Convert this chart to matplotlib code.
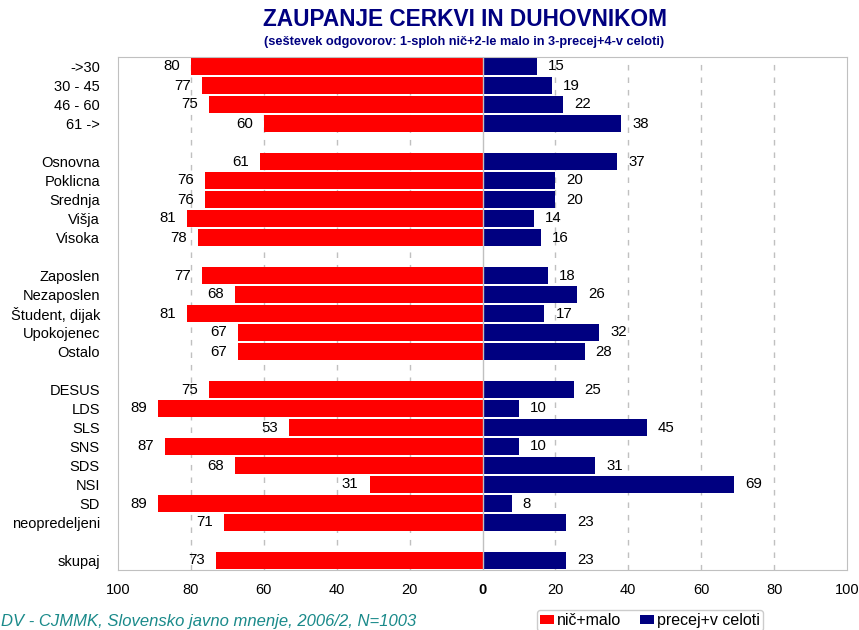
import matplotlib
matplotlib.use('Agg')
import matplotlib.pyplot as plt
from matplotlib.patches import Patch
import numpy as np

plt.rcParams['font.family'] = ['Liberation Sans', 'DejaVu Sans']

# %%
# Data (groups are separated by an empty row)
# -------------------------------------------

group_sizes = [4, 5, 5, 8, 1]
categories = [
    '->30', '30 - 45', '46 - 60', '61 ->',
    'Osnovna', 'Poklicna', 'Srednja', 'Višja', 'Visoka',
    'Zaposlen', 'Nezaposlen', 'Študent, dijak', 'Upokojenec', 'Ostalo',
    'DESUS', 'LDS', 'SLS', 'SNS', 'SDS', 'NSI', 'SD', 'neopredeljeni',
    'skupaj',
]
nic_malo = [80, 77, 75, 60,
            61, 76, 76, 81, 78,
            77, 68, 81, 67, 67,
            75, 89, 53, 87, 68, 31, 89, 71,
            73]
precej = [15, 19, 22, 38,
          37, 20, 20, 14, 16,
          18, 26, 17, 32, 28,
          25, 10, 45, 10, 31, 69, 8, 23,
          23]
xticks = [-100, -80, -60, -40, -20, 0, 20, 40, 60, 80, 100]

RED = '#FF0000'
NAVY = '#000080'
GRID = '#C0C0C0'

# row positions with one blank slot between groups
ypos = []
slot = 0
for n in group_sizes:
    ypos.extend(range(slot, slot + n))
    slot += n + 1
nslots = slot - 1
ypos = np.array(ypos)

W, H = 859, 630
fig = plt.figure(figsize=(W / 100, H / 100), dpi=100)
ax = fig.add_axes([118 / W, 1 - 570 / H, (847 - 118) / W, (570 - 57) / H])

ax.barh(ypos, -np.array(nic_malo), height=0.88, color=RED, zorder=2)
ax.barh(ypos, precej, height=0.88, color=NAVY, zorder=2)

for y, v in zip(ypos, nic_malo):
    ax.annotate(str(v), (-v, y), xytext=(-8, 0), textcoords='offset points',
                ha='right', va='center', fontsize=10.8, color='black')
for y, v in zip(ypos, precej):
    ax.annotate(str(v), (v, y), xytext=(8, 0), textcoords='offset points',
                ha='left', va='center', fontsize=10.8, color='black')

for x in xticks[1:-1]:
    if x == 0:
        ax.axvline(0, color=GRID, lw=1.0, zorder=3)
    else:
        ax.axvline(x, color=GRID, lw=1.0, dashes=(4, 5), zorder=1)

ax.set_xlim(-100, 100)
ax.set_ylim(nslots - 0.5, -0.5)
ax.set_yticks(ypos)
ax.set_yticklabels(categories, fontsize=10.5)
ax.set_xticks(xticks)
ax.set_xticklabels([str(abs(x)) for x in xticks], fontsize=10.5,
                   family=['Liberation Sans Narrow', 'Liberation Sans'])
for lab in ax.get_xticklabels():
    if lab.get_text() == '0':
        lab.set_fontweight('bold')
ax.tick_params(axis='y', length=0, pad=13, labelcolor='black')
ax.tick_params(axis='x', length=0, pad=9, labelcolor='black')
for sp in ax.spines.values():
    sp.set_color(GRID)

fig.text(465 / W, 1 - 20 / H, 'ZAUPANJE CERKVI IN DUHOVNIKOM', ha='center', va='center',
         fontsize=16.3, fontweight='bold', color=NAVY)
fig.text(464 / W, 1 - 42 / H,
         '(seštevek odgovorov: 1-sploh nič+2-le malo in 3-precej+4-v celoti)',
         ha='center', va='center', fontsize=9.2, fontweight='bold', color=NAVY)

fig.text(1 / W, 1 - 626 / H, 'DV - CJMMK, Slovensko javno mnenje, 2006/2, N=1003',
         ha='left', va='baseline', fontsize=12, style='italic', color='#1A8A8A')

handles = [Patch(facecolor=RED, label='nič+malo'), Patch(facecolor=NAVY, label='precej+v celoti')]
leg = fig.legend(handles=handles, loc='upper left', bbox_to_anchor=(537 / W, 1 - 610 / H),
                 ncol=2, fontsize=11.5, frameon=True, fancybox=True, handlelength=0.85,
                 handleheight=0.55, handletextpad=0.2, columnspacing=1.2, borderpad=0.2,
                 borderaxespad=0)
leg.get_frame().set_edgecolor(GRID)
leg.get_frame().set_linewidth(1.0)

fig.savefig('out.png', dpi=100)
